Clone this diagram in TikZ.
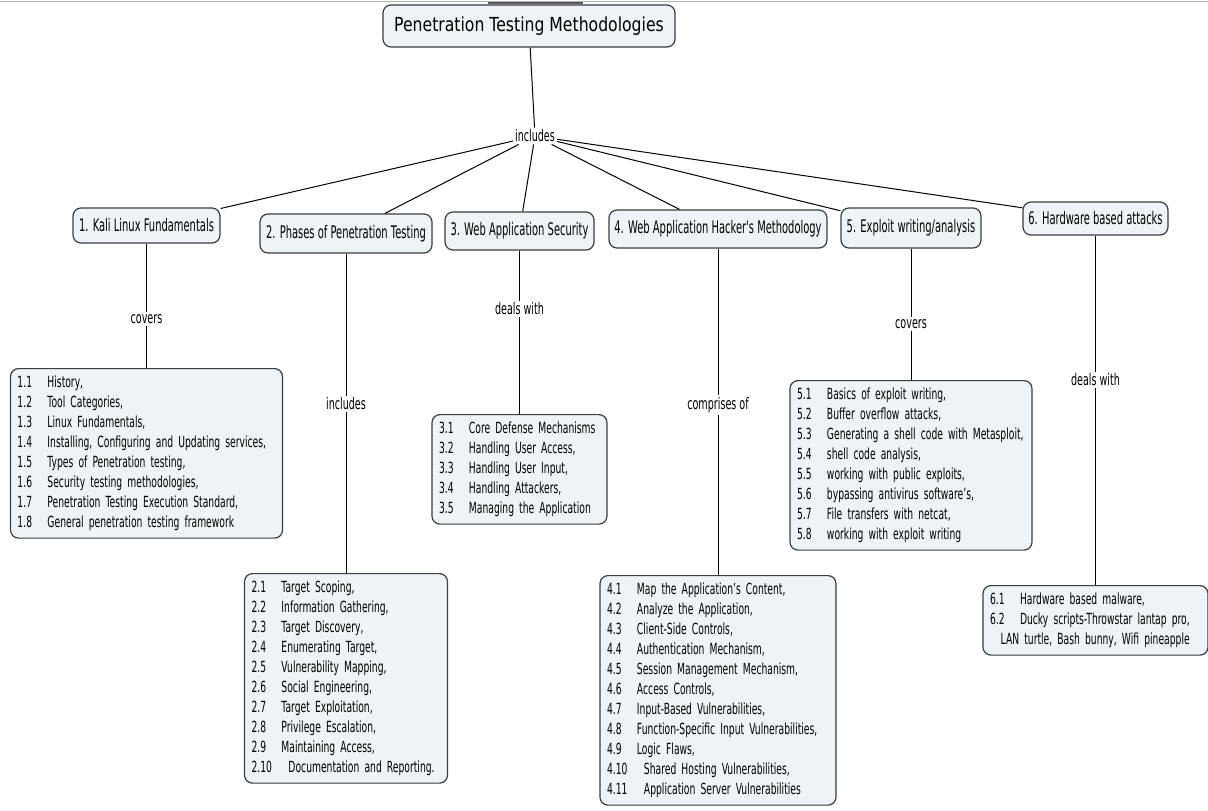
\documentclass[tikz,border=0pt]{standalone}
\usepackage{fontspec}
\newfontfamily\listfont{DejaVu Sans}[FakeStretch=0.6]
\newfontfamily\catfont{DejaVu Sans}[FakeStretch=0.573]
\newfontfamily\rootfont{DejaVu Sans}[FakeStretch=0.81]
\definecolor{boxfill}{RGB}{237,243,246}
\definecolor{boxdraw}{RGB}{58,62,66}
\newcommand\itm[2]{\mbox{\makebox[22.5pt][l]{#1}#2}}
\newcommand\itmw[2]{\mbox{\makebox[27.75pt][l]{#1}#2}}
\begin{document}
\begin{tikzpicture}[x=0.75pt,y=-0.75pt,
  box/.style={draw=boxdraw, fill=boxfill, rounded corners=6pt, line width=0.9pt},
  rootbox/.style={box, font=\rootfont\fontsize{14.5}{17}\selectfont, inner sep=0pt},
  cat/.style={box, font=\catfont\fontsize{13}{15}\selectfont, inner sep=0pt},
  lst/.style={box, font=\listfont\fontsize{11.5}{15}\selectfont, align=left, anchor=north, inner xsep=5.25pt, inner ysep=5.5pt},
  lbl/.style={font=\listfont\fontsize{12}{13}\selectfont, inner sep=1.5pt, fill=white},
  link/.style={draw=black, line width=0.75pt}]
\useasboundingbox (0,0) rectangle (1208,811);
\fill[white] (0,0) rectangle (1208,811);
\draw[black!30, line width=1.2pt] (0,1.5) -- (1208,1.5);
\draw[black!65, line width=1.6pt] (488,3) -- (583,3);

% root and first label
\node[rootbox, minimum width=219pt, minimum height=31.5pt] (root) at (529,26) {Penetration Testing Methodologies};
\node[lbl] (inc) at (535,136) {includes};

% categories
\node[cat, minimum width=110.25pt, minimum height=26.25pt] (c1) at (146.5,225.5) {1. Kali Linux Fundamentals};
\node[cat, minimum width=129pt, minimum height=29.25pt] (c2) at (346,233.5) {2. Phases of Penetration Testing};
\node[cat, minimum width=111.75pt, minimum height=28.5pt] (c3) at (519.5,231) {3. Web Application Security};
\node[cat, minimum width=163.5pt, minimum height=28.5pt] (c4) at (718,229) {4. Web Application Hacker's Methodology};
\node[cat, minimum width=105pt, minimum height=30pt] (c5) at (911,228) {5. Exploit writing/analysis};
\node[cat, minimum width=108.75pt, minimum height=24.75pt] (c6) at (1095.5,218.5) {6. Hardware based attacks};

% linking labels
\node[lbl] (l1) at (146.5,319) {covers};
\node[lbl] (l2) at (346,404) {includes};
\node[lbl] (l3) at (519.5,309) {deals with};
\node[lbl] (l4) at (718,405) {comprises of};
\node[lbl] (l5) at (911,324) {covers};
\node[lbl] (l6) at (1095.5,380) {deals with};

% lists
\node[lst, text width=193.5pt] (b1) at (146.5,368) {%
\itm{1.1}{History,}\\
\itm{1.2}{Tool Categories,}\\
\itm{1.3}{Linux Fundamentals,}\\
\itm{1.4}{Installing, Configuring and Updating services,}\\
\itm{1.5}{Types of Penetration testing,}\\
\itm{1.6}{Security testing methodologies,}\\
\itm{1.7}{Penetration Testing Execution Standard,}\\
\itm{1.8}{General penetration testing framework}};

\node[lst, text width=141.75pt] (b2) at (346,573) {%
\itm{2.1}{Target Scoping,}\\
\itm{2.2}{Information Gathering,}\\
\itm{2.3}{Target Discovery,}\\
\itm{2.4}{Enumerating Target,}\\
\itm{2.5}{Vulnerability Mapping,}\\
\itm{2.6}{Social Engineering,}\\
\itm{2.7}{Target Exploitation,}\\
\itm{2.8}{Privilege Escalation,}\\
\itm{2.9}{Maintaining Access,}\\
\itmw{2.10}{Documentation and Reporting.}};

\node[lst, text width=120.75pt] (b3) at (519.5,414) {%
\itm{3.1}{Core Defense Mechanisms}\\
\itm{3.2}{Handling User Access,}\\
\itm{3.3}{Handling User Input,}\\
\itm{3.4}{Handling Attackers,}\\
\itm{3.5}{Managing the Application}};

\node[lst, text width=166.5pt] (b4) at (718,575) {%
\itm{4.1}{Map the Application’s Content,}\\
\itm{4.2}{Analyze the Application,}\\
\itm{4.3}{Client-Side Controls,}\\
\itm{4.4}{Authentication Mechanism,}\\
\itm{4.5}{Session Management Mechanism,}\\
\itm{4.6}{Access Controls,}\\
\itm{4.7}{Input-Based Vulnerabilities,}\\
\itm{4.8}{Function-Specific Input Vulnerabilities,}\\
\itm{4.9}{Logic Flaws,}\\
\itmw{4.10}{Shared Hosting Vulnerabilities,}\\
\itmw{4.11}{Application Server Vulnerabilities}};

\node[lst, text width=171pt] (b5) at (911,380) {%
\itm{5.1}{Basics of exploit writing,}\\
\itm{5.2}{Buffer overflow attacks,}\\
\itm{5.3}{Generating a shell code with Metasploit,}\\
\itm{5.4}{shell code analysis,}\\
\itm{5.5}{working with public exploits,}\\
\itm{5.6}{bypassing antivirus software’s,}\\
\itm{5.7}{File transfers with netcat,}\\
\itm{5.8}{working with exploit writing}};

\node[lst, text width=158.25pt] (b6) at (1095.5,585) {%
\itm{6.1}{Hardware based malware,}\\
\itm{6.2}{Ducky scripts-Throwstar lantap pro,}\\
\mbox{\hspace*{0.7em}LAN turtle, Bash bunny, Wifi pineapple}};

% connectors
\draw[link] (root) -- (inc);
\foreach \c in {c1,c2,c3,c4,c5,c6} \draw[link] (inc) -- (\c);
\draw[link] (c1) -- (l1) -- (b1);
\draw[link] (c2) -- (l2) -- (b2);
\draw[link] (c3) -- (l3) -- (b3);
\draw[link] (c4) -- (l4) -- (b4);
\draw[link] (c5) -- (l5) -- (b5);
\draw[link] (c6) -- (l6) -- (b6);
\end{tikzpicture}
\end{document}
